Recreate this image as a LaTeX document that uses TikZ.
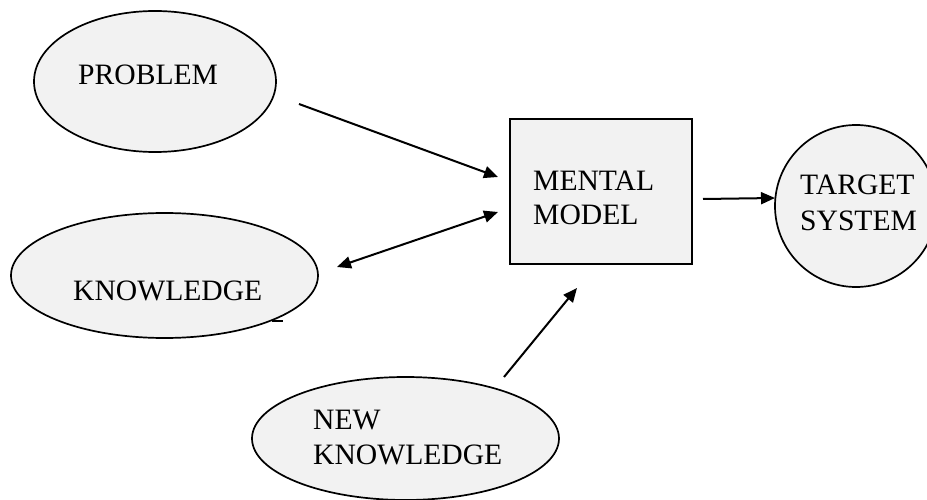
\documentclass[tikz,border=0pt]{standalone}
\usepackage{fontspec}
\setmainfont{Liberation Serif}
\usetikzlibrary{shapes.geometric,arrows.meta}
\definecolor{shapefill}{HTML}{F2F2F2}
\begin{document}
\begin{tikzpicture}[x=1pt,y=-1pt,
  shapebox/.style={draw=black, line width=1.7pt, fill=shapefill, inner sep=0pt},
  lbl/.style={anchor=base west, inner sep=0pt, font=\fontsize{29.6}{35}\selectfont},
  conn/.style={line width=2pt, -{Triangle[length=14pt,width=12pt]}},
  dconn/.style={line width=2pt, {Triangle[length=14pt,width=12pt]}-{Triangle[length=14pt,width=12pt]}}]
\useasboundingbox (0,0) rectangle (927,500);
\clip (0,0) rectangle (927,500);
% shapes
\node[shapebox, ellipse, minimum width=242pt, minimum height=141pt] (problem) at (155,81.5) {};
\node[shapebox, ellipse, minimum width=307pt, minimum height=125pt] (knowledge) at (164.5,275.5) {};
\node[shapebox, ellipse, minimum width=307pt, minimum height=123pt] (newk) at (405.5,438.5) {};
\node[shapebox, rectangle, minimum width=182pt, minimum height=145pt] (model) at (601,191.5) {};
\node[shapebox, circle, minimum size=162pt] (target) at (856,206) {};
% labels
\node[lbl] (tproblem) at (78,85) {PROBLEM};
\node[lbl] (tknowledge) at (73,300) {KNOWLEDGE};
\node[lbl] (tmental) at (533,190) {MENTAL};
\node[lbl] (tmodel) at (533,225) {MODEL};
\node[lbl] (ttarget) at (800,195) {TARGET};
\node[lbl] (tsystem) at (800,230) {SYSTEM};
\node[lbl] (tnew) at (313,429) {NEW};
\node[lbl] (tnewk) at (313,464) {KNOWLEDGE};
% connector end points
\coordinate (a1s) at (299,104);
\coordinate (a1e) at (498,177);
\coordinate (a2s) at (337,267);
\coordinate (a2e) at (498,212);
\coordinate (a3s) at (504,377);
\coordinate (a3e) at (577,288);
\coordinate (a4s) at (703,199);
\coordinate (a4e) at (775,198);
\coordinate (m1) at (272,321);
\coordinate (m2) at (283,321);
% connectors
\draw[conn] (a1s) -- (a1e);
\draw[dconn] (a2s) -- (a2e);
\draw[conn] (a3s) -- (a3e);
\draw[conn] (a4s) -- (a4e);
\draw[line width=2pt] (m1) -- (m2);
\end{tikzpicture}
\end{document}
